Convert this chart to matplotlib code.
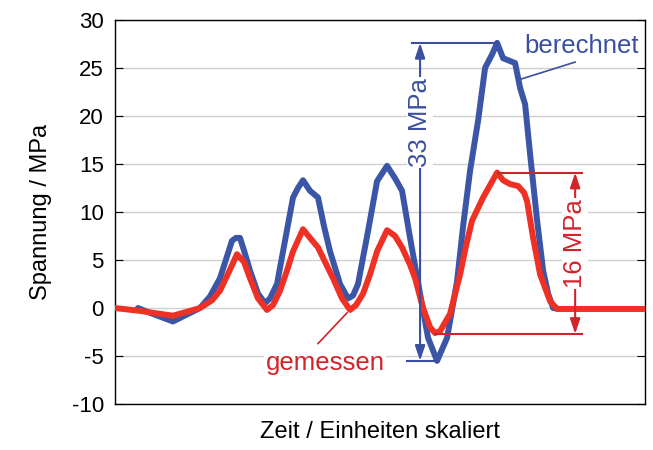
import matplotlib.pyplot as plt

plt.rcParams['font.family'] = ['Liberation Sans', 'DejaVu Sans']
plt.rcParams['axes.unicode_minus'] = False

# Messdaten (Zeit in skalierten Einheiten)
zeit_gem = [115, 140, 173, 200, 212, 220, 230, 237, 244, 250, 258, 267, 273, 280, 287, 293,
            303, 310, 318, 333, 342, 350, 356, 363, 370, 377, 387, 395, 402, 410, 415, 423,
            430, 435, 440, 450, 460, 466, 472, 483, 490, 497, 503, 510, 518, 524, 527, 533,
            540, 550, 557, 570, 600, 645]
gemessen = [0, -0.3, -0.8, 0, 0.8, 1.8, 4.0, 5.6, 4.8, 3.1, 1.0, -0.2, 0.3, 1.8, 3.9, 5.9,
            8.2, 7.3, 6.3, 3.1, 1.0, -0.2, 0.3, 1.5, 3.5, 5.9, 8.1, 7.5, 6.3, 4.5, 3.1, 0,
            -2.0, -2.6, -2.4, -0.6, 3.5, 6.5, 9.1, 11.5, 12.8, 14.1, 13.3, 12.9, 12.7, 12.0, 11.1, 7.3,
            3.5, 0.7, -0.1, -0.1, -0.1, -0.1]

zeit_ber = [138, 150, 173, 200, 210, 220, 232, 236, 240, 244, 250, 258, 265, 270, 277,
            285, 293, 298, 303, 310, 318, 324, 330, 340, 348, 353, 358, 368, 377,
            387, 395, 402, 410, 420, 428, 437, 447, 457, 463, 470, 478, 485, 492, 497,
            503, 515, 520, 525, 530, 537, 543, 548, 553, 560]
berechnet = [0, -0.5, -1.4, 0, 1.2, 3.1, 7.0, 7.3, 7.3, 6.0, 3.9, 1.5, 0.5, 1.0, 2.5,
             7.0, 11.5, 12.5, 13.3, 12.2, 11.5, 8.5, 5.9, 2.5, 1.0, 1.3, 2.5, 8.0, 13.2,
             14.8, 13.5, 12.2, 7.3, 1.5, -3.1, -5.5, -3.1, 2.8, 8.5, 14.3, 19.5, 25.0, 26.4, 27.6,
             26.0, 25.5, 22.9, 21.2, 16.0, 9.1, 3.9, 1.5, 0, -0.1]

BLAU = '#3b56a7'
ROT = '#ee3124'
BLAU_ANN = '#3a4f9f'
ROT_ANN = '#d2232a'

fig = plt.figure(figsize=(6.53, 4.5), dpi=100)
ax = fig.add_axes([0.176, 0.102, 0.812, 0.854])

ax.plot(zeit_ber, berechnet, color=BLAU, lw=4.3, solid_joinstyle='round',
        solid_capstyle='round', zorder=3)
ax.plot(zeit_gem, gemessen, color=ROT, lw=4.3, solid_joinstyle='round',
        solid_capstyle='round', zorder=4)

ax.set_xlim(115, 645)
ax.set_ylim(-10, 30)
ax.set_yticks(range(-10, 31, 5))
ax.set_xticks([])
ax.yaxis.grid(True, color='#d0d0d0', lw=1)
ax.set_axisbelow(True)
ax.tick_params(axis='y', direction='in', length=6, right=True, labelsize=16, pad=8)
for s in ax.spines.values():
    s.set_linewidth(1)

ax.set_ylabel('Spannung / MPa', fontsize=17, labelpad=14)
ax.set_xlabel('Zeit / Einheiten skaliert', fontsize=17, labelpad=12)

# 33 MPa Bemassung
ax.plot([412, 497], [27.6, 27.6], color=BLAU_ANN, lw=1.5, zorder=5)
ax.plot([407, 437], [-5.5, -5.5], color=BLAU_ANN, lw=1.5, zorder=5)
ax.annotate('', xy=(420, 27.6), xytext=(420, -5.5),
            arrowprops=dict(arrowstyle='<|-|>,head_length=0.9,head_width=0.3',
                            color=BLAU_ANN, lw=1.5, shrinkA=0, shrinkB=0), zorder=5)
ax.text(420, 19.3, '33 MPa', rotation=90, color=BLAU_ANN, fontsize=18.5,
        ha='center', va='center', zorder=6,
        bbox=dict(facecolor='white', edgecolor='none', pad=1))

# 16 MPa Bemassung
ax.plot([498, 582], [14.1, 14.1], color=ROT_ANN, lw=1.5, zorder=5)
ax.plot([435, 582], [-2.7, -2.7], color=ROT_ANN, lw=1.5, zorder=5)
ax.annotate('', xy=(575, 14.1), xytext=(575, -2.7),
            arrowprops=dict(arrowstyle='<|-|>,head_length=0.9,head_width=0.3',
                            color=ROT_ANN, lw=1.5, shrinkA=0, shrinkB=0), zorder=5)
ax.text(575, 6.7, '16 MPa', rotation=90, color=ROT_ANN, fontsize=18.5,
        ha='center', va='center', zorder=6,
        bbox=dict(facecolor='white', edgecolor='none', pad=1))

# Beschriftungen der Kurven
ax.plot([575, 520], [25.6, 23.8], color=BLAU_ANN, lw=1.2, zorder=5)
ax.text(581, 27.3, 'berechnet', color=BLAU_ANN, fontsize=18.5, ha='center', va='center',
        zorder=6, bbox=dict(facecolor='white', edgecolor='none', pad=1))
ax.plot([347, 318], [-0.5, -3.7], color=ROT_ANN, lw=1.2, zorder=5)
ax.text(325, -5.7, 'gemessen', color=ROT_ANN, fontsize=18.5, ha='center', va='center',
        zorder=6, bbox=dict(facecolor='white', edgecolor='none', pad=1))

fig.savefig('out.png', dpi=100)
